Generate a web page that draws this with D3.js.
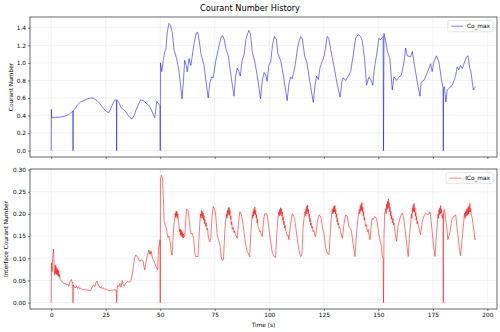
<!DOCTYPE html>
<html>
<head>
<meta charset="utf-8">
<script src="https://cdn.jsdelivr.net/npm/d3@7"></script>
<style>
  body { margin: 0; background: #fff; }
  svg { display: block; font-family: 'DejaVu Sans', sans-serif; }
</style>
</head>
<body>
<svg id="chart" width="500" height="332"></svg>
<script>
// Co_max (time s, value)
const coMax = [
  [0, 0], [0.05, 0.47], [0.3, 0.375], [2, 0.378], [4, 0.382], [6, 0.39], [8, 0.41], [9.5, 0.44], [9.9, 0.45], [10, 0], [10.1, 0.46],
  [11, 0.48], [12, 0.52], [13.4, 0.555], [15, 0.57], [16.5, 0.59], [18, 0.6], [19.5, 0.595], [21, 0.57], [22.5, 0.53], [24, 0.48],
  [25.5, 0.44], [26.5, 0.435], [27.5, 0.49], [28.5, 0.55], [29.5, 0.58], [29.9, 0.58], [30, 0], [30.1, 0.575], [31, 0.55], [32, 0.49],
  [33, 0.47], [34, 0.45], [35, 0.41], [36, 0.38], [37, 0.36], [38, 0.4], [39.5, 0.5], [41, 0.58], [42.5, 0.565], [44, 0.53], [45, 0.51],
  [46, 0.46], [47, 0.4], [47.5, 0.375], [48, 0.48], [48.4, 0.56], [49, 0.54], [49.6, 0.52], [49.9, 0.51], [50, 0], [50.1, 1.0],
  [50.7, 0.9], [51.5, 1.05], [52, 1.12], [52.6, 1.16], [53.2, 1.35], [54, 1.45], [54.7, 1.43], [55.5, 1.35], [56.3, 1.15], [57.5, 1.05],
  [58.5, 0.92], [59.3, 0.75], [60, 0.59], [60.6, 0.78], [61.2, 1.03], [62, 0.96], [62.4, 0.9], [63.2, 1.05], [64, 0.97], [64.8, 1.1],
  [65.5, 1.22], [66.5, 1.34], [67.2, 1.35], [68, 1.23], [68.7, 1.1], [70, 0.98], [71, 0.78], [72, 0.6], [72.8, 0.78], [73.6, 0.84],
  [74.3, 0.83], [75.3, 1.0], [76.3, 1.12], [77, 1.2], [78, 1.3], [78.6, 1.31], [79.3, 1.27], [80.2, 1.15], [81.2, 1.08], [82.3, 0.88],
  [83.8, 0.62], [84.6, 0.85], [85.3, 0.94], [86.1, 0.9], [86.7, 0.85], [87.5, 1.02], [88.5, 1.1], [89.3, 1.27], [90.6, 1.37], [91.4, 1.33],
  [92.2, 1.12], [93.3, 1.02], [94.5, 0.85], [96, 0.59], [96.8, 0.8], [97.6, 0.89], [98.4, 0.86], [99, 0.79], [99.8, 0.97], [100.7, 1.02],
  [101.5, 1.21], [102.4, 1.3], [103.2, 1.27], [104, 1.1], [105.3, 1.02], [106.5, 0.85], [108.2, 0.57], [109, 0.76], [109.8, 0.84],
  [110.5, 0.82], [111.3, 0.9], [112.2, 1.03], [113, 1.18], [113.8, 1.25], [114.4, 1.3], [115.2, 1.27], [116.2, 1.08], [117.3, 1.0],
  [118.5, 0.8], [120.2, 0.55], [121, 0.75], [121.7, 0.85], [122.5, 0.81], [123.3, 0.95], [124.3, 1.02], [125.2, 1.08], [126.6, 1.3],
  [127.3, 1.28], [128.1, 1.16], [129.6, 0.97], [131.2, 0.75], [132.5, 0.61], [133.3, 0.78], [133.9, 0.83], [135, 0.8], [136.5, 0.86],
  [137.3, 0.9], [138.5, 1.09], [139.6, 1.28], [140.4, 1.31], [141.1, 1.32], [141.8, 1.3], [142.6, 1.26], [143.7, 1.05], [144.6, 0.745],
  [145.7, 0.84], [146.8, 0.8], [147.5, 0.745], [148, 0.9], [149.2, 1.09], [150.3, 1.28], [151, 1.26], [151.6, 1.285], [152.2, 1.3],
  [152.4, 0], [152.6, 1.335], [153.3, 1.26], [154.1, 1.14], [155.3, 1.05], [156.4, 0.69], [157.2, 0.84], [158.3, 0.8], [159.5, 0.84],
  [160.6, 0.86], [161.8, 1.01], [162.5, 1.17], [163.3, 1.08], [164.8, 1.07], [165.6, 1.13], [166.6, 0.97], [167.9, 0.78], [169.1, 0.62],
  [169.7, 0.78], [170.9, 0.8], [172, 0.86], [173.2, 0.935], [174, 0.99], [174.7, 0.9], [175.5, 1.01], [176.7, 1.08], [177.8, 1.01],
  [178.9, 0.82], [179.7, 0.71], [179.8, 0], [179.9, 0.71], [180.3, 0.73], [181, 0.553], [181.6, 0.69], [182.4, 0.71], [183.9, 0.745],
  [185, 0.82], [185.5, 0.86], [186.2, 0.955], [186.9, 0.92], [187.7, 0.97], [188.5, 0.935], [189.6, 1.01], [190.5, 1.07], [191.1, 1.08],
  [192, 0.935], [192.5, 0.9], [193.1, 0.78], [193.6, 0.69], [194.2, 0.72], [194.7, 0.73]
];

// ICo_max (time s, value)
const icoMax = [
  [0, 0], [0.1, 0.09], [0.4, 0.07], [0.7, 0.1], [1.0, 0.121], [1.2, 0.1], [1.4, 0.078], [1.6, 0.062], [1.8, 0.085], [2.0, 0.066],
  [2.2, 0.082], [2.4, 0.064], [2.6, 0.078], [2.8, 0.062], [3.0, 0.075], [3.2, 0.06], [3.4, 0.072], [3.6, 0.057], [3.8, 0.064],
  [4.1, 0.053], [4.5, 0.05], [5, 0.047], [5.5, 0.045], [6, 0.042], [6.5, 0.044], [7, 0.04], [7.5, 0.042], [8, 0.037], [8.5, 0.046],
  [9, 0.05], [9.3, 0.052], [9.6, 0.044], [9.9, 0.046], [10, 0], [10.1, 0.04], [10.5, 0.036], [11, 0.033], [11.5, 0.038], [12, 0.032],
  [12.5, 0.036], [13, 0.031], [13.5, 0.033], [14, 0.03], [15, 0.029], [16, 0.029], [17, 0.028], [18, 0.027], [18.5, 0.032], [19, 0.037],
  [19.5, 0.04], [20, 0.036], [20.5, 0.045], [21, 0.049], [21.5, 0.04], [22, 0.038], [22.5, 0.033], [23, 0.036], [23.5, 0.031],
  [24, 0.033], [24.5, 0.03], [25, 0.031], [26, 0.028], [27, 0.027], [28, 0.028], [29, 0.029], [29.8, 0.028], [30, 0], [30.2, 0.03],
  [30.5, 0.039], [31, 0.036], [31.5, 0.043], [32, 0.035], [32.6, 0.05], [33, 0.04], [33.5, 0.037], [34, 0.043], [35, 0.047], [36, 0.046],
  [36.6, 0.05], [37.2, 0.065], [37.7, 0.082], [38.2, 0.1], [38.7, 0.107], [39.5, 0.104], [40.2, 0.097], [40.6, 0.093], [41.3, 0.096],
  [42.1, 0.094], [42.6, 0.08], [42.9, 0.074], [43.4, 0.09], [44, 0.105], [44.4, 0.112], [44.7, 0.118], [45, 0.11], [45.3, 0.117],
  [45.6, 0.109], [45.9, 0.115], [46.2, 0.105], [46.5, 0.1], [46.8, 0.097], [47.4, 0.09], [48, 0.082], [48.8, 0.074], [49.2, 0.12],
  [49.9, 0.142], [50, 0], [50.1, 0.28], [50.5, 0.287], [51, 0.283], [51.4, 0.24], [51.8, 0.183], [52.3, 0.175], [52.7, 0.17],
  [53.2, 0.155], [53.5, 0.147], [54, 0.15], [54.6, 0.135], [55, 0.115], [55.4, 0.107], [55.8, 0.14], [56.2, 0.172], [56.6, 0.19],
  [56.9, 0.202], [57.1, 0.192], [57.3, 0.207], [57.5, 0.195], [57.7, 0.205], [57.9, 0.19], [58.1, 0.2], [58.3, 0.183], [58.6, 0.175],
  [58.8, 0.16], [59, 0.165], [59.2, 0.152], [59.4, 0.166], [59.6, 0.15], [59.8, 0.162], [60, 0.148], [60.2, 0.158], [60.4, 0.146],
  [60.6, 0.155], [60.8, 0.147], [61.2, 0.15], [61.6, 0.18], [62.1, 0.211], [62.7, 0.208], [63.2, 0.19], [63.7, 0.165], [64.2, 0.155],
  [64.7, 0.157], [65.3, 0.145], [65.8, 0.115], [66.2, 0.104], [67.3, 0.104],
  [67.7, 0.14], [68, 0.168], [68.3, 0.19], [68.5, 0.2], [68.7, 0.19], [68.9, 0.208], [69.1, 0.195], [69.3, 0.206], [69.5, 0.19],
  [69.7, 0.202], [69.9, 0.186], [70.1, 0.196], [70.3, 0.178], [70.5, 0.188], [70.8, 0.172], [71.1, 0.18], [71.4, 0.164], [71.7, 0.168],
  [72, 0.15], [72.4, 0.14], [72.8, 0.137], [73.2, 0.145], [73.7, 0.19], [74.3, 0.217], [74.9, 0.21], [75.4, 0.2], [76.1, 0.153],
  [76.8, 0.14], [77.4, 0.13], [77.9, 0.105], [78.4, 0.095], [79, 0.097],
  [79.6, 0.16], [80.1, 0.19], [80.4, 0.2], [80.6, 0.19], [80.8, 0.208], [81, 0.196], [81.2, 0.214], [81.4, 0.2], [81.6, 0.215],
  [81.8, 0.197], [82, 0.208], [82.2, 0.188], [82.4, 0.196], [82.6, 0.176], [82.8, 0.182], [83, 0.165], [83.4, 0.17], [83.8, 0.158],
  [84.1, 0.162], [84.5, 0.152], [84.9, 0.15], [85.3, 0.145], [85.8, 0.175], [86.5, 0.205], [87.1, 0.2], [87.6, 0.19], [88.4, 0.16],
  [89.2, 0.13], [89.9, 0.115], [91, 0.104],
  [91.6, 0.16], [92, 0.188], [92.2, 0.198], [92.4, 0.19], [92.6, 0.206], [92.8, 0.195], [93, 0.212], [93.2, 0.2], [93.4, 0.216],
  [93.6, 0.198], [93.8, 0.208], [94, 0.19], [94.2, 0.198], [94.4, 0.18], [94.6, 0.188], [94.8, 0.172], [95.2, 0.168], [95.6, 0.16],
  [96, 0.162], [96.4, 0.152], [96.8, 0.149], [97.3, 0.18], [97.8, 0.2], [98.5, 0.202], [99.1, 0.196], [99.8, 0.168], [100.6, 0.14],
  [101.4, 0.112], [102.2, 0.104], [102.9, 0.102],
  [103.4, 0.15], [103.8, 0.18], [104.1, 0.196], [104.4, 0.205], [104.6, 0.195], [104.8, 0.21], [105, 0.198], [105.2, 0.214],
  [105.4, 0.2], [105.6, 0.212], [105.8, 0.195], [106, 0.204], [106.2, 0.186], [106.4, 0.194], [106.6, 0.176], [106.8, 0.184],
  [107, 0.168], [107.3, 0.174], [107.5, 0.164], [107.9, 0.158], [108.3, 0.15], [108.7, 0.152], [109, 0.142], [109.7, 0.175],
  [110.5, 0.2], [111, 0.198], [111.6, 0.19], [112.2, 0.168], [112.8, 0.145], [113.6, 0.118], [114.4, 0.104], [115, 0.11],
  [115.5, 0.17], [116, 0.192], [116.4, 0.205], [116.6, 0.196], [116.8, 0.212], [117, 0.2], [117.2, 0.218], [117.4, 0.205],
  [117.6, 0.22], [117.8, 0.2], [118, 0.21], [118.2, 0.192], [118.4, 0.2], [118.6, 0.182], [118.8, 0.19], [119, 0.174], [119.2, 0.18],
  [119.5, 0.168], [119.8, 0.172], [120.1, 0.16], [120.5, 0.163], [120.8, 0.152], [121.2, 0.149], [122, 0.18], [122.8, 0.198],
  [123.3, 0.196], [123.8, 0.19], [124.4, 0.17], [125.1, 0.153], [125.8, 0.125], [126.6, 0.112], [127.4, 0.108],
  [127.9, 0.15], [128.4, 0.19], [128.9, 0.21], [129.1, 0.2], [129.3, 0.214], [129.5, 0.203], [129.7, 0.218], [129.9, 0.205],
  [130.1, 0.219], [130.3, 0.2], [130.5, 0.21], [130.7, 0.192], [130.9, 0.2], [131.1, 0.182], [131.3, 0.19], [131.5, 0.175],
  [131.8, 0.18], [132, 0.168], [132.4, 0.17], [132.7, 0.162], [133.1, 0.152], [133.5, 0.145], [134.2, 0.175], [135, 0.198],
  [135.8, 0.194], [136.5, 0.172], [137.6, 0.164], [138.5, 0.13], [139.3, 0.104],
  [139.8, 0.14], [140.3, 0.172], [140.9, 0.2], [141.3, 0.21], [141.5, 0.2], [141.7, 0.218], [141.9, 0.206], [142.1, 0.222],
  [142.3, 0.208], [142.5, 0.226], [142.7, 0.205], [142.9, 0.215], [143.1, 0.196], [143.3, 0.205], [143.5, 0.186], [143.7, 0.192],
  [144, 0.178], [144.2, 0.172], [144.6, 0.176], [145, 0.16], [145.4, 0.165], [145.8, 0.15], [146.2, 0.142], [146.7, 0.17],
  [147.2, 0.19], [147.8, 0.188], [148.3, 0.194], [149.2, 0.19], [150.3, 0.153], [151.4, 0.127], [151.8, 0.106], [152.2, 0.1],
  [152.4, 0], [152.6, 0.15], [152.9, 0.198], [153.4, 0.212], [153.6, 0.2], [153.8, 0.222], [154, 0.21], [154.2, 0.228],
  [154.4, 0.212], [154.6, 0.234], [154.8, 0.214], [155, 0.226], [155.2, 0.205], [155.4, 0.215], [155.6, 0.196], [155.8, 0.206],
  [156, 0.188], [156.2, 0.196], [156.4, 0.18], [156.7, 0.19], [157, 0.175], [157.2, 0.18], [157.8, 0.155], [158.4, 0.138],
  [159, 0.172], [159.9, 0.19], [160.5, 0.198], [161, 0.202], [161.7, 0.19], [162.8, 0.142], [163.7, 0.104],
  [164.3, 0.15], [164.8, 0.175], [165.2, 0.2], [165.4, 0.19], [165.6, 0.213], [165.8, 0.202], [166, 0.22], [166.2, 0.206],
  [166.4, 0.224], [166.6, 0.204], [166.8, 0.214], [167, 0.195], [167.2, 0.204], [167.4, 0.186], [167.6, 0.194], [167.8, 0.178],
  [168, 0.184], [168.3, 0.175], [168.8, 0.165], [169.4, 0.153], [170.2, 0.183], [170.9, 0.195], [171.7, 0.202], [172.7, 0.198],
  [173.2, 0.2], [173.7, 0.205], [174.2, 0.185], [174.7, 0.16], [175.4, 0.125], [176, 0.104], [176.5, 0.14], [177, 0.175],
  [177.4, 0.2], [177.6, 0.19], [177.8, 0.21], [178, 0.198], [178.2, 0.214], [178.4, 0.2], [178.6, 0.219], [178.8, 0.202],
  [179, 0.21], [179.2, 0.195], [179.5, 0.19], [179.7, 0.2], [179.8, 0], [179.9, 0.2], [180.1, 0.205], [180.4, 0.21], [180.8, 0.19],
  [181.3, 0.175], [181.9, 0.142], [182.4, 0.15], [182.9, 0.16], [183.4, 0.178], [183.9, 0.19], [184.7, 0.195], [185.5, 0.198],
  [186, 0.175], [186.5, 0.153], [187.1, 0.125], [187.7, 0.106], [188.4, 0.14], [189, 0.172], [189.4, 0.195], [189.6, 0.202],
  [189.8, 0.19], [190, 0.205], [190.2, 0.194], [190.4, 0.21], [190.6, 0.196], [190.8, 0.212], [191, 0.198], [191.2, 0.215],
  [191.4, 0.2], [191.6, 0.218], [191.8, 0.204], [192, 0.224], [192.2, 0.205], [192.4, 0.212], [192.7, 0.198], [193.1, 0.19],
  [193.5, 0.175], [193.9, 0.16], [194.3, 0.142], [194.6, 0.145]
];

const xTicks = [0, 25, 50, 75, 100, 125, 150, 175, 200];
const coTicks = [0, 0.2, 0.4, 0.6, 0.8, 1.0, 1.2, 1.4];
const icoTicks = [0, 0.05, 0.1, 0.15, 0.2, 0.25, 0.3];

const svg = d3.select('#chart');
const left = 30, right = 497;
const fs = 5.8;

// matplotlib-like 5% padding
function padded(ext) {
  const p = (ext[1] - ext[0]) * 0.05;
  return [ext[0] - p, ext[1] + p];
}

const tExt = d3.extent(coMax.concat(icoMax), d => d[0]);
const x = d3.scaleLinear().domain(padded(tExt)).range([left, right]);

svg.append('text')
  .attr('x', 250).attr('y', 10.5)
  .attr('text-anchor', 'middle')
  .style('font-size', '8.2px')
  .style('fill', '#000')
  .text('Courant Number History');

function panel(data, top, bottom, ticks, fmt, color, name, ylabel, ylabelX, showX) {
  const y = d3.scaleLinear().domain(padded(d3.extent(data, d => d[1]))).range([bottom, top]);
  const g = svg.append('g');

  // grid
  g.selectAll('.vg').data(xTicks).enter().append('line')
    .attr('x1', d => x(d)).attr('x2', d => x(d))
    .attr('y1', top).attr('y2', bottom)
    .style('stroke', '#b0b0b0').style('stroke-opacity', 0.3).style('stroke-width', 0.5);
  g.selectAll('.hg').data(ticks).enter().append('line')
    .attr('x1', left).attr('x2', right)
    .attr('y1', d => y(d)).attr('y2', d => y(d))
    .style('stroke', '#b0b0b0').style('stroke-opacity', 0.3).style('stroke-width', 0.5);

  const line = d3.line().x(d => x(d[0])).y(d => y(d[1]));
  g.append('path')
    .datum(data)
    .attr('d', line)
    .style('fill', 'none')
    .style('stroke', color)
    .style('stroke-opacity', 0.7)
    .style('stroke-width', 0.75)
    .style('stroke-linejoin', 'round');

  const yAxis = g.append('g')
    .attr('transform', 'translate(' + left + ',0)')
    .call(d3.axisLeft(y).tickValues(ticks).tickFormat(d3.format(fmt)).tickSize(2).tickPadding(2));
  const xAxis = g.append('g')
    .attr('transform', 'translate(0,' + bottom + ')')
    .call(d3.axisBottom(x).tickValues(xTicks).tickFormat(showX ? d3.format('d') : '').tickSize(2).tickPadding(2));
  [yAxis, xAxis].forEach(a => {
    a.select('.domain').remove();
    a.selectAll('line').style('stroke', '#000').style('stroke-width', 0.5);
    a.selectAll('text').style('font-family', 'DejaVu Sans').style('font-size', fs + 'px').style('fill', '#000');
  });

  g.append('rect')
    .attr('x', left).attr('y', top)
    .attr('width', right - left).attr('height', bottom - top)
    .style('fill', 'none').style('stroke', '#000').style('stroke-width', 0.6);

  g.append('text')
    .attr('transform', 'translate(' + ylabelX + ',' + (top + bottom) / 2 + ') rotate(-90)')
    .attr('text-anchor', 'middle')
    .attr('dominant-baseline', 'central')
    .style('font-size', fs + 'px')
    .text(ylabel);

  // legend
  const lg = g.append('g');
  const lt = lg.append('text')
    .attr('y', top + 9.2)
    .attr('dominant-baseline', 'central')
    .style('font-size', fs + 'px')
    .text(name);
  const tw = lt.node().getComputedTextLength();
  const bx1 = right - 4, tx = bx1 - 3 - tw;
  lt.attr('x', tx);
  lg.insert('rect', 'text')
    .attr('x', tx - 19).attr('y', top + 3.5)
    .attr('width', tw + 22).attr('height', 11.2)
    .attr('rx', 1.5)
    .style('fill', '#fff').style('fill-opacity', 0.8)
    .style('stroke', '#ccc').style('stroke-width', 0.5);
  lg.append('line')
    .attr('x1', tx - 15.5).attr('x2', tx - 4)
    .attr('y1', top + 9.2).attr('y2', top + 9.2)
    .style('stroke', color).style('stroke-opacity', 0.7).style('stroke-width', 0.75);
}

panel(coMax, 17, 157, coTicks, '.1f', 'blue', 'Co_max', 'Courant Number', 10.8, false);
panel(icoMax, 169, 309, icoTicks, '.2f', 'red', 'ICo_max', 'Interface Courant Number', 6.2, true);

svg.append('text')
  .attr('x', (left + right) / 2).attr('y', 326.5)
  .attr('text-anchor', 'middle')
  .style('font-size', fs + 'px')
  .text('Time (s)');
</script>
</body>
</html>
